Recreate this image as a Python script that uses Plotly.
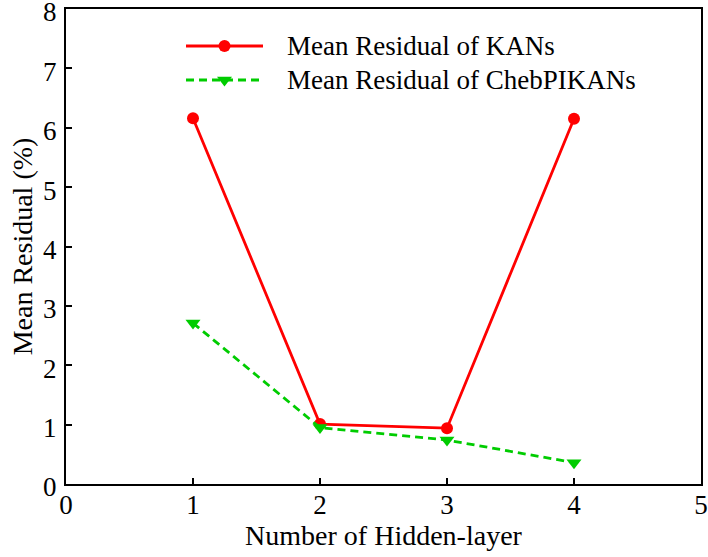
import plotly.graph_objects as go

# Mean residual (%) versus number of hidden layers
layers = [1, 2, 3, 4]
kan_residual = [6.16, 1.01, 0.94, 6.15]
cheb_residual = [2.71, 0.95, 0.74, 0.36]

series_names = ["Mean Residual of KANs", "Mean Residual of ChebPIKANs"]
x_ticks = [0, 1, 2, 3, 4, 5]
y_ticks = [0, 1, 2, 3, 4, 5, 6, 7, 8]

FONT = "Liberation Serif, Times New Roman, serif"
RED = "#ff0000"
GREEN = "#00cc00"
DASH = "8px,5px"

W, H = 708, 557
L, R, T, B = 66, 7, 9, 73

fig = go.Figure()

fig.add_trace(go.Scatter(
    x=layers, y=kan_residual, mode="lines+markers", name=series_names[0],
    line=dict(color=RED, width=2.8),
    marker=dict(symbol="circle", size=12, color=RED),
    showlegend=False,
))
fig.add_trace(go.Scatter(
    x=layers, y=cheb_residual, mode="lines+markers", name=series_names[1],
    line=dict(color=GREEN, width=2.8, dash=DASH),
    marker=dict(symbol="triangle-down", size=13, color=GREEN),
    showlegend=False,
))

# Legend drawn on a pixel-space overlay axis so the sample lines can be long
leg_rows = [46, 80]
leg_x0, leg_x1, leg_text_x = 186, 263, 285
fig.add_trace(go.Scatter(
    x=[leg_x0, leg_x1], y=[leg_rows[0]] * 2, xaxis="x2", yaxis="y2",
    mode="lines", line=dict(color=RED, width=2.8), showlegend=False, hoverinfo="skip",
))
fig.add_trace(go.Scatter(
    x=[(leg_x0 + leg_x1) / 2], y=[leg_rows[0]], xaxis="x2", yaxis="y2",
    mode="markers", marker=dict(symbol="circle", size=12, color=RED),
    showlegend=False, hoverinfo="skip",
))
fig.add_trace(go.Scatter(
    x=[leg_x0, leg_x1], y=[leg_rows[1]] * 2, xaxis="x2", yaxis="y2",
    mode="lines", line=dict(color=GREEN, width=2.8, dash=DASH),
    showlegend=False, hoverinfo="skip",
))
fig.add_trace(go.Scatter(
    x=[(leg_x0 + leg_x1) / 2], y=[leg_rows[1]], xaxis="x2", yaxis="y2",
    mode="markers", marker=dict(symbol="triangle-down", size=13, color=GREEN),
    showlegend=False, hoverinfo="skip",
))
for name, yy in zip(series_names, leg_rows):
    fig.add_annotation(
        x=leg_text_x, y=yy, xref="x2", yref="y2", text=name, showarrow=False,
        xanchor="left", yanchor="middle", font=dict(family=FONT, size=27, color="black"),
    )

axis_common = dict(
    showline=True, linecolor="black", linewidth=2, mirror=True,
    ticks="inside", ticklen=6, tickwidth=2, tickcolor="black",
    showgrid=False, zeroline=False, ticklabeloverflow="allow",
    tickfont=dict(family=FONT, size=27, color="black"),
    automargin=False,
)

fig.update_layout(
    width=W, height=H,
    margin=dict(l=L, r=R, t=T, b=B),
    paper_bgcolor="white", plot_bgcolor="white",
    xaxis=dict(
        range=[0, 5], tickvals=x_ticks, ticktext=[str(v) for v in x_ticks],
        ticklabelstandoff=-4,
        title=dict(text="Number of Hidden-layer", font=dict(family=FONT, size=28, color="black"), standoff=4),
        **axis_common,
    ),
    yaxis=dict(
        range=[0, 8], tickvals=y_ticks, ticktext=[str(v) for v in y_ticks],
        ticklabelstandoff=2, ticklabelshift=3,
        title=dict(text="Mean Residual (%)", font=dict(family=FONT, size=28, color="black"), standoff=2),
        **axis_common,
    ),
    xaxis2=dict(range=[L, W - R], overlaying="x", visible=False, fixedrange=True),
    yaxis2=dict(range=[H - B, T], overlaying="y", visible=False, fixedrange=True),
)

fig.write_html("out.html")
